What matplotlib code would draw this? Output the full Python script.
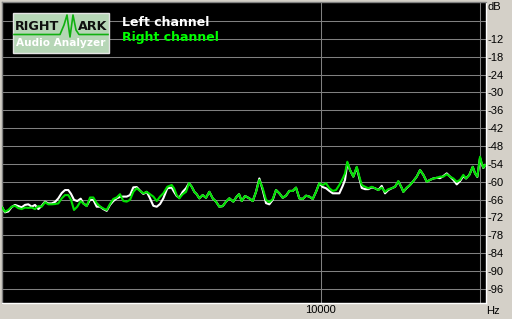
"""RMAA-style spectrum plot: left/right channel level in dB vs frequency (log axis),
black plot area, labels on the right, RightMark logo top-left."""

import matplotlib
matplotlib.use("Agg")
import matplotlib.pyplot as plt
from matplotlib.lines import Line2D
from matplotlib.patches import Rectangle
from matplotlib.ticker import FixedFormatter, FixedLocator, NullFormatter

W, H = 512, 319  # output size in pixels (dpi 100)

# ---- data (Hz, dB) ----
freq_hz = [
    2505, 2538, 2575, 2613, 2651, 2689, 2729, 2769, 2809, 2851,
    2892, 2934, 2977, 3020, 3064, 3110, 3155, 3200, 3248, 3295,
    3342, 3382, 3426, 3475, 3527,
    3567, 3620, 3673, 3726, 3781, 3836, 3891, 3949, 4006, 4064,
    4124, 4184, 4245, 4308, 4370, 4433, 4499, 4564, 4630, 4699,
    4767, 4836, 4908, 4979,
    5050, 5139, 5238, 5291, 5353, 5414, 5494, 5574, 5647, 5714,
    5779, 5839, 5906, 5993, 6080, 6168, 6260, 6350, 6442, 6538,
    6632, 6728, 6846, 6948, 7018, 7100,
    7203, 7339, 7448, 7556, 7665, 7779, 7891, 8005, 8124, 8242,
    8361, 8485, 8608, 8732, 8862, 8990, 9120, 9256, 9389, 9525,
    9667, 9806, 9948,
    10096, 10242, 10390, 10544, 10697, 10851, 11013, 11123, 11235, 11368,
    11532, 11704, 11837, 11961, 12134, 12309, 12492, 12672, 12855, 13047,
    13235, 13426, 13626, 13823, 14023, 14231, 14331,
    14544, 14754, 14967, 15190, 15410, 15633, 15865, 16094, 16326, 16569,
    16809, 17051, 17305, 17555, 17809, 18074, 18335, 18600, 18820, 19091,
    19375, 19570, 19766, 20000, 20148, 20289, 20440,
]

left_db = [
    -68.5, -70.3, -70.0, -68.5, -67.8, -68.2, -68.6, -67.8, -67.6, -68.4,
    -67.8, -69.2, -68.1, -66.7, -67.3, -67.3, -66.8, -65.6, -63.8, -62.8,
    -62.8, -64.1, -66.1, -66.5, -65.7,
    -67.3, -68.1, -66.1, -66.1, -68.4, -68.4, -69.2, -69.8, -67.8, -66.5,
    -65.6, -65.1, -65.0, -65.0, -64.5, -61.9, -61.8, -63.0, -64.1, -63.4,
    -65.6, -68.1, -68.4, -67.5,
    -65.6, -62.2, -62.0, -63.4, -64.8, -65.4, -63.4, -62.2, -60.5, -61.7,
    -63.4, -64.2, -65.6, -64.5, -65.4, -63.4, -65.6, -66.7, -68.4, -68.2,
    -66.7, -65.6, -66.7, -65.0, -64.2, -66.5,
    -64.8, -65.6, -66.5, -63.4, -58.9, -62.8, -67.2, -67.6, -66.1, -62.8,
    -63.9, -65.4, -64.7, -63.1, -63.1, -62.0, -65.6, -65.8, -64.7, -65.0,
    -65.8, -63.4, -60.5,
    -61.8, -62.2, -63.1, -63.9, -63.9, -63.9, -61.4, -59.4, -53.7, -56.1,
    -58.3, -55.2, -58.8, -62.1, -62.5, -62.5, -61.9, -62.2, -62.8, -61.4,
    -63.9, -62.8, -62.2, -61.7, -59.9, -62.1, -63.4,
    -62.1, -61.1, -59.8, -58.3, -56.1, -57.7, -60.0, -59.4, -58.9, -58.7,
    -58.8, -58.1, -57.2, -58.3, -59.4, -60.9, -59.8, -58.1, -58.9, -57.7,
    -55.0, -57.2, -58.4, -52.0, -54.1, -55.4, -54.4,
]

right_db = [
    -68.6, -70.1, -69.5, -68.4, -68.1, -68.9, -69.2, -68.7, -68.8, -68.7,
    -69.2, -68.2, -68.4, -66.9, -67.6, -67.6, -67.5, -67.3, -65.6, -64.5,
    -64.5, -66.1, -69.5, -68.4, -66.5,
    -67.3, -68.2, -65.3, -65.3, -67.2, -68.3, -69.0, -69.5, -67.5, -65.8,
    -65.3, -64.2, -66.5, -66.7, -66.1, -63.4, -62.2, -63.1, -63.9, -63.4,
    -64.2, -65.0, -66.5, -65.0,
    -63.9, -61.7, -61.1, -62.2, -64.5, -65.6, -64.2, -63.4, -60.5, -61.7,
    -63.4, -64.2, -65.6, -64.5, -65.4, -63.4, -65.6, -66.7, -68.4, -68.2,
    -66.7, -65.6, -66.7, -65.0, -64.2, -66.5,
    -64.8, -65.6, -66.5, -63.4, -59.4, -62.2, -66.1, -66.9, -65.8, -62.8,
    -63.9, -65.4, -64.7, -63.1, -63.1, -62.0, -65.6, -65.8, -64.7, -65.0,
    -65.8, -63.4, -60.5,
    -61.1, -60.5, -62.2, -63.1, -62.8, -61.1, -58.9, -57.2, -53.3, -56.1,
    -58.3, -55.0, -58.3, -61.1, -61.7, -62.2, -61.7, -62.2, -62.8, -62.0,
    -63.4, -62.5, -62.2, -61.7, -59.8, -62.1, -63.4,
    -62.0, -61.1, -59.8, -58.3, -56.1, -57.7, -60.0, -59.4, -58.9, -58.7,
    -58.3, -58.3, -57.5, -58.3, -58.9, -60.0, -59.4, -57.7, -58.9, -57.7,
    -55.0, -57.2, -58.3, -51.6, -53.8, -55.3, -54.4,
]

y_ticks = list(range(-6, -97, -6))
y_labels = [""] + [str(v) for v in y_ticks[1:]]   # -6 row carries "dB" above instead
x_ticks = [10000]
x_labels = ["10000"]
x_minor = [20000]

BG = "#D4D0C8"
GRID = "#808080"
GREEN = "#00E000"


def px(x, y):
    """pixel (from top-left) -> figure fraction"""
    return x / W, 1 - y / H


def draw_logo(fig):
    x0, y0 = px(12.5, 52.5)
    fig.add_artist(Rectangle((x0, y0), 96.5 / W, 40 / H, transform=fig.transFigure,
                             facecolor="#B6D6B6", edgecolor="#E4E4E4", lw=1.0, zorder=5))
    # green trace with the "M" spike
    pts = [(14, 34.5), (60, 34.5), (64, 25), (67, 15), (70, 37), (73, 15),
           (76, 30), (79, 34.5), (108, 34.5)]
    xs, ys = zip(*[px(a, b) for a, b in pts])
    fig.add_artist(Line2D(xs, ys, transform=fig.transFigure, color="#10B010",
                          lw=1.2, zorder=6))
    kw = dict(fontsize=9.2, fontweight="bold", family="DejaVu Sans",
              va="center", zorder=7)
    fig.text(*px(15, 27), "RIGHT", ha="left", color="#101010", **kw)
    fig.text(*px(107.5, 27), "ARK", ha="right", color="#101010", **kw)
    fig.text(*px(61, 43), "Audio Analyzer", ha="center", color="white",
             fontsize=7.6, fontweight="bold", family="DejaVu Sans",
             va="center", zorder=7)


fig = plt.figure(figsize=(W / 100, H / 100), dpi=100, facecolor=BG)
ax = fig.add_axes([1.5 / W, 16.5 / H, 484 / W, 301 / H])
ax.set_facecolor("black")

ax.plot(freq_hz, left_db, color="white", lw=1.5, zorder=3)
ax.plot(freq_hz, right_db, color=GREEN, lw=1.5, zorder=4)

ax.set_xscale("log")
ax.set_xlim(2500, 20480)
ax.set_ylim(-100.6, 0.57)

ax.xaxis.set_major_locator(FixedLocator(x_ticks))
ax.xaxis.set_major_formatter(FixedFormatter(x_labels))
ax.xaxis.set_minor_locator(FixedLocator(x_minor))
ax.xaxis.set_minor_formatter(NullFormatter())
ax.set_yticks(y_ticks)
ax.set_yticklabels(y_labels)
ax.yaxis.tick_right()

ax.tick_params(axis="both", which="both", length=0, labelsize=8, colors="black")
ax.tick_params(axis="y", pad=1.2)
ax.tick_params(axis="x", pad=2.0)
for lab in ax.get_xticklabels() + ax.get_yticklabels():
    lab.set_family("Liberation Sans")

ax.grid(True, which="both", color=GRID, lw=0.75, zorder=1)
ax.set_axisbelow(True)

for side in ("left", "top"):
    ax.spines[side].set_color(GRID)
for side in ("right", "bottom"):
    ax.spines[side].set_color("white")
for sp in ax.spines.values():
    sp.set_linewidth(1.0)

# unit labels
fig.text(*px(487.5, 7), "dB", ha="left", va="center", fontsize=8, family="Liberation Sans")
fig.text(*px(486, 311), "Hz", ha="left", va="center", fontsize=8, family="Liberation Sans")

# channel legend
fig.text(*px(122, 22.7), "Left channel", color="white", fontsize=9,
         fontweight="bold", family="DejaVu Sans", va="center", zorder=6)
fig.text(*px(122, 37.7), "Right channel", color="#00FF00", fontsize=9,
         fontweight="bold", family="DejaVu Sans", va="center", zorder=6)

draw_logo(fig)

fig.savefig("out.png", dpi=100, facecolor=BG)
